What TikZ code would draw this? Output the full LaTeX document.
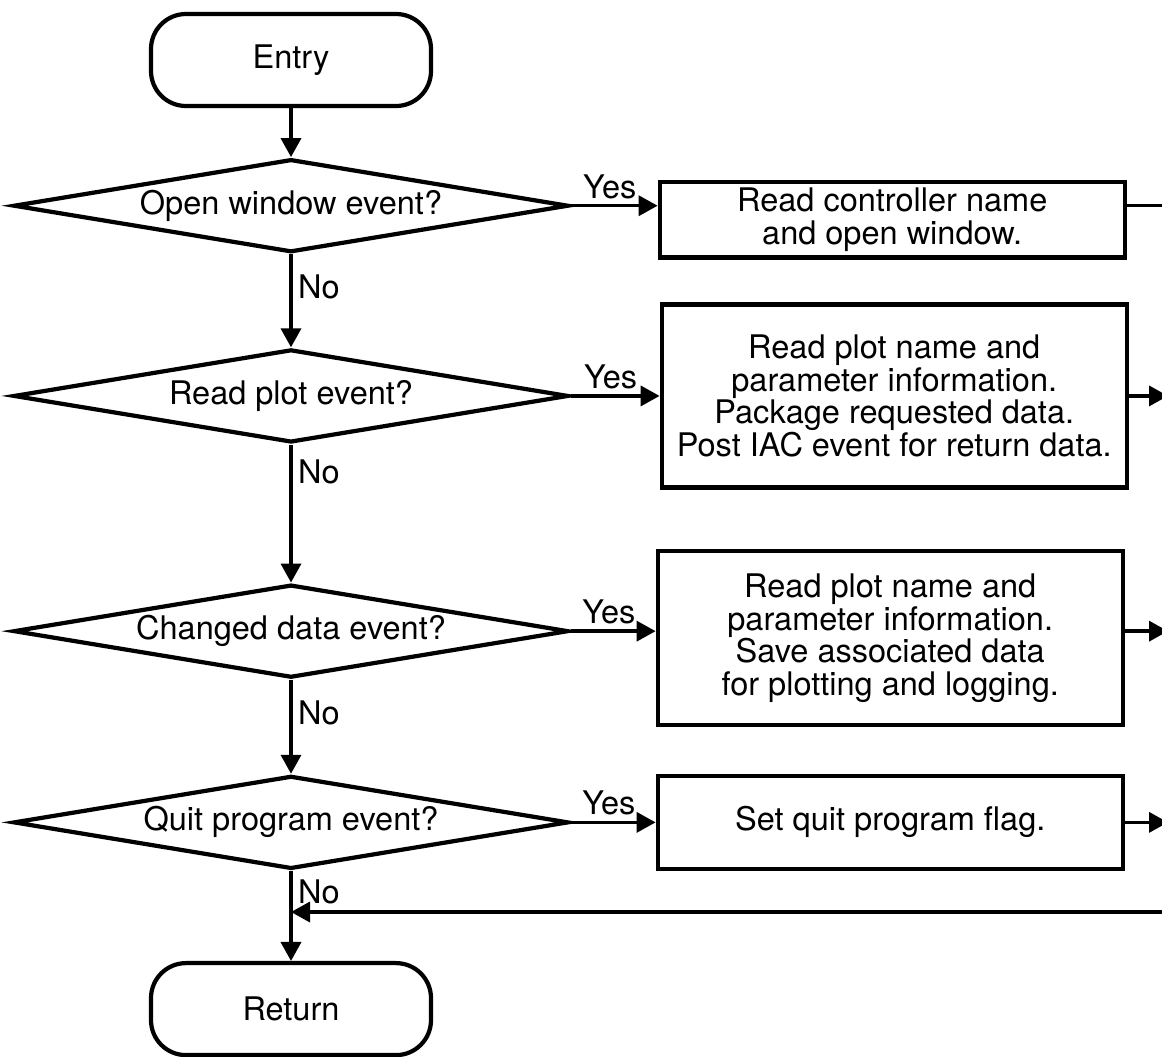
\documentclass[tikz,border=0pt]{standalone}
\usepackage{fontspec}
\setmainfont{TeX Gyre Heros}
\usetikzlibrary{shapes.geometric, arrows.meta, positioning}
\tikzset{
  terminal/.style={rectangle, rounded corners=0.7cm, draw=black, line width=2.4pt, minimum width=5.6cm, minimum height=1.84cm, align=center},
  action/.style={rectangle, draw=black, line width=2.4pt, minimum width=9.3cm, align=center},
  query/.style={diamond, draw=black, line width=2.4pt, aspect=5.8, minimum width=11.1cm, minimum height=1.86cm, inner sep=0pt, align=center},
  flow/.style={-{Triangle[length=3.8mm, width=4mm]}, line width=2pt},
  plainline/.style={line width=2pt},
  tag/.style={inner sep=3pt},
}

\begin{document}
\begin{tikzpicture}[font=\fontsize{18.5}{18.7}\selectfont]
\useasboundingbox (0,0) rectangle (23.24,-21.12);
% main column
\node[terminal] (entry) at (5.82,-1.2) {Entry};
\node[query, below=0.98cm of entry] (open) {Open window event?};
\node[query, below=1.86cm of open] (plot) {Read plot event?};
\node[query, below=2.76cm of plot] (chg) {Changed data event?};
\node[query, below=1.88cm of chg] (quit) {Quit program event?};
\node[terminal, below=1.8cm of quit] (ret) {Return};
% actions on the right
\node[action, minimum height=1.3cm, right=1.74cm of open, yshift=-0.28cm] (rdctl) {Read controller name\\and open window.};
\node[action, minimum height=3.66cm, right=1.78cm of plot] (rdplot) {Read plot name and\\parameter information.\\Package requested data.\\Post IAC event for return data.};
\node[action, minimum height=3.48cm, right=1.7cm of chg, yshift=-0.14cm] (save) {Read plot name and\\parameter information.\\Save associated data\\for plotting and logging.};
\node[action, minimum height=1.86cm, right=1.7cm of quit] (setq) {Set quit program flag.};
% off-page points
\coordinate (rim) at (23.36,0);
\coordinate (back) at (23.36,-18.24);
% No branch
\draw[flow] (entry) -- (open);
\draw[flow] (open) -- node[tag, right, pos=0.35]{No} (plot);
\draw[flow] (plot) -- node[tag, right, pos=0.2]{No} (chg);
\draw[flow] (chg) -- node[tag, right, pos=0.35]{No} (quit);
\draw[flow] (quit) -- node[tag, right, pos=0.23]{No} (ret);
% Yes branch
\draw[flow] (open.east) -- node[tag, above, pos=0.45]{Yes} (open.east -| rdctl.west);
\draw[flow] (plot.east) -- node[tag, above, pos=0.45]{Yes} (plot.east -| rdplot.west);
\draw[flow] (chg.east) -- node[tag, above, pos=0.45]{Yes} (chg.east -| save.west);
\draw[flow] (quit.east) -- node[tag, above, pos=0.45]{Yes} (quit.east -| setq.west);
% leaving the page
\draw[plainline] (open.east -| rdctl.east) -- (rim |- open.east);
\draw[flow] (plot.east -| rdplot.east) -- (rim |- plot.east);
\draw[flow] (chg.east -| save.east) -- (rim |- chg.east);
\draw[flow] (quit.east -| setq.east) -- (rim |- quit.east);
\draw[flow] (back) -- (back -| quit.south);
\end{tikzpicture}
\end{document}
